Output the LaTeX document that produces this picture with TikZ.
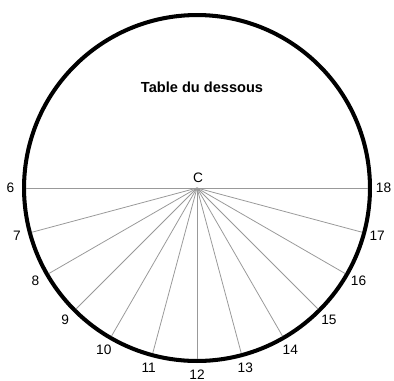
\documentclass[tikz,border=0pt]{standalone}
\usepackage{fontspec}
\setmainfont{Liberation Sans}
\usetikzlibrary{positioning, calc}

\begin{document}
\begin{tikzpicture}[
    x=0.02cm, y=0.02cm,
    table/.style={circle, draw=black, line width=2.3pt, minimum size=6.92cm, inner sep=0pt, outer sep=0pt},
    ray/.style={draw=black!40, line width=0.45pt, shorten >=1.1pt},
    hour/.style={font=\fontsize{7.8}{8}\selectfont, inner sep=0pt},
    title/.style={font=\fontsize{8.3}{10}\selectfont\bfseries}
]
    \useasboundingbox (0,0) rectangle (394,380);

    % Table (circle) and centre
    \coordinate (c) at (197,192);
    \node [table] (tab) at (c) {};
    \node [title] (name) at (202,293) {Table du dessous};
    \node [hour] (lc) at (198,202) {C};

    % Hour rays and numbers
    \foreach \h in {6,...,18}{
        \draw [ray] (c) -- (tab.{90+15*\h});
        \node [hour] (h\h) at ($(c)+({90+15*\h}:186.5)$) {\h};
    }
\end{tikzpicture}
\end{document}
